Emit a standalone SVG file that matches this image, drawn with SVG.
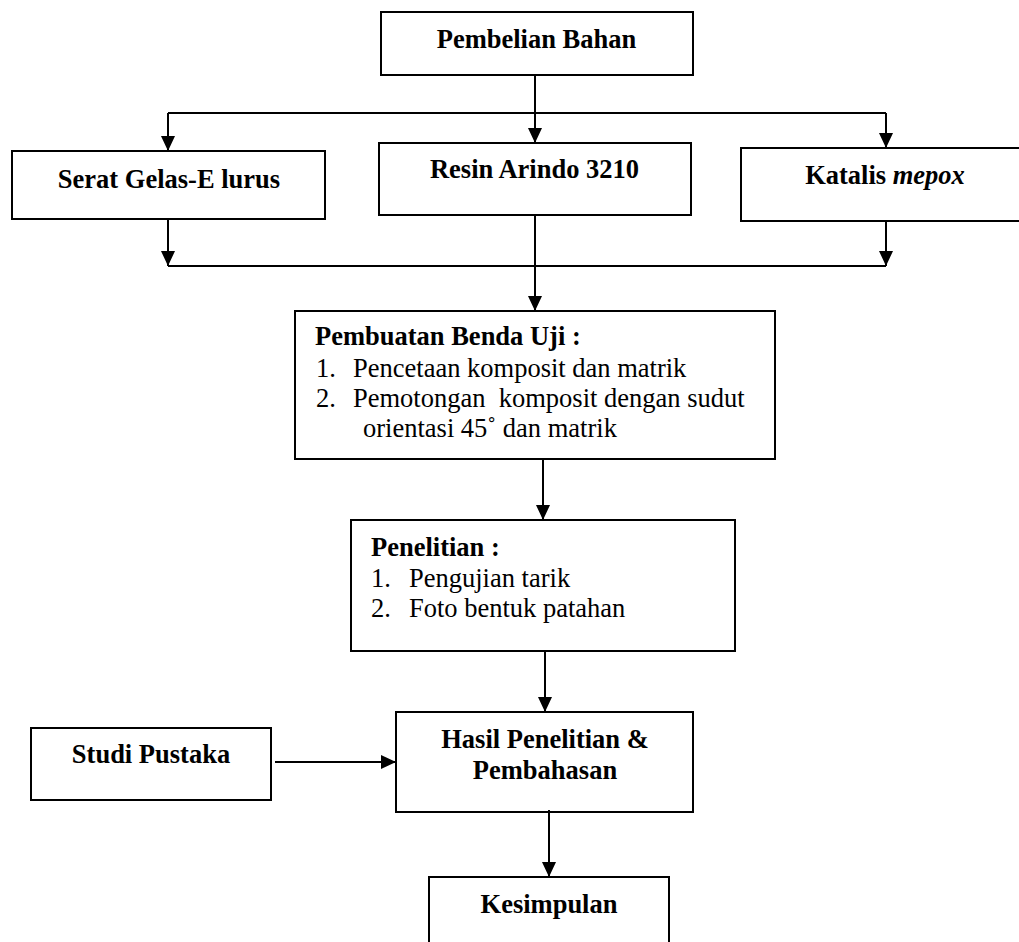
<svg xmlns="http://www.w3.org/2000/svg" width="1019" height="942" viewBox="0 0 1019 942">
<style>
.box{fill:#fff;stroke:#000;stroke-width:2}
.t{font-family:"Liberation Serif","Times New Roman",serif;font-size:26.5px;fill:#000}
.b{font-weight:bold}
.c{text-anchor:middle}
.ln{stroke:#000;stroke-width:2;fill:none}
</style>
<defs>
<marker id="ah" markerUnits="userSpaceOnUse" markerWidth="16" markerHeight="16" refX="15" refY="7" orient="auto">
<path d="M0,0 L15,7 L0,14 z" fill="#000"/>
</marker>
</defs>
<rect width="1019" height="942" fill="#fff"/>
<g id="n-pembelian">
<rect class="box" x="381" y="12" width="312" height="63"/>
<text class="t b c" x="536.5" y="48">Pembelian Bahan</text>
</g>
<g id="n-serat">
<rect class="box" x="12" y="151" width="313" height="68"/>
<text class="t b c" x="169" y="188">Serat Gelas-E lurus</text>
</g>
<g id="n-resin">
<rect class="box" x="379" y="143" width="312" height="72"/>
<text class="t b c" x="534.5" y="178">Resin Arindo 3210</text>
</g>
<g id="n-katalis">
<rect class="box" x="741" y="148" width="300" height="73"/>
<text class="t b c" x="885" y="184">Katalis <tspan font-style="italic">mepox</tspan></text>
</g>
<g id="n-pembuatan">
<rect class="box" x="295" y="311" width="480" height="148"/>
<text class="t b" x="315" y="345">Pembuatan Benda Uji :</text>
<text class="t" x="316" y="377">1.</text>
<text class="t" x="353" y="377">Pencetaan komposit dan matrik</text>
<text class="t" x="316" y="407">2.</text>
<text class="t" x="353" y="407" xml:space="preserve" style="white-space:pre">Pemotongan  komposit dengan sudut</text>
<text class="t" x="363" y="437">orientasi 45˚ dan matrik</text>
</g>
<g id="n-penelitian">
<rect class="box" x="351" y="520" width="384" height="131"/>
<text class="t b" x="371" y="556">Penelitian :</text>
<text class="t" x="371" y="587">1.</text>
<text class="t" x="409" y="587">Pengujian tarik</text>
<text class="t" x="371" y="617">2.</text>
<text class="t" x="409" y="617">Foto bentuk patahan</text>
</g>
<g id="n-studi">
<rect class="box" x="31" y="728" width="240" height="72"/>
<text class="t b c" x="151" y="763">Studi Pustaka</text>
</g>
<g id="n-hasil">
<rect class="box" x="396" y="712" width="297" height="100"/>
<text class="t b c" x="545" y="748">Hasil Penelitian &amp;</text>
<text class="t b c" x="545" y="779">Pembahasan</text>
</g>
<g id="n-kesimpulan">
<rect class="box" x="429" y="877" width="240" height="90"/>
<text class="t b c" x="549" y="913">Kesimpulan</text>
</g>
<g id="connectors">
<line class="ln" x1="535" y1="75" x2="535" y2="143" marker-end="url(#ah)"/>
<line class="ln" x1="168" y1="113" x2="886" y2="113"/>
<line class="ln" x1="168" y1="113" x2="168" y2="151" marker-end="url(#ah)"/>
<line class="ln" x1="886" y1="113" x2="886" y2="148" marker-end="url(#ah)"/>
<line class="ln" x1="168" y1="219" x2="168" y2="266" marker-end="url(#ah)"/>
<line class="ln" x1="886" y1="221" x2="886" y2="266" marker-end="url(#ah)"/>
<line class="ln" x1="168" y1="266" x2="886" y2="266"/>
<line class="ln" x1="535" y1="215" x2="535" y2="311" marker-end="url(#ah)"/>
<line class="ln" x1="543" y1="459" x2="543" y2="520" marker-end="url(#ah)"/>
<line class="ln" x1="545" y1="651" x2="545" y2="712" marker-end="url(#ah)"/>
<line class="ln" x1="275" y1="762" x2="396" y2="762" stroke-width="3" marker-end="url(#ah)"/>
<line class="ln" x1="549" y1="810" x2="549" y2="877" marker-end="url(#ah)"/>
</g>
</svg>
